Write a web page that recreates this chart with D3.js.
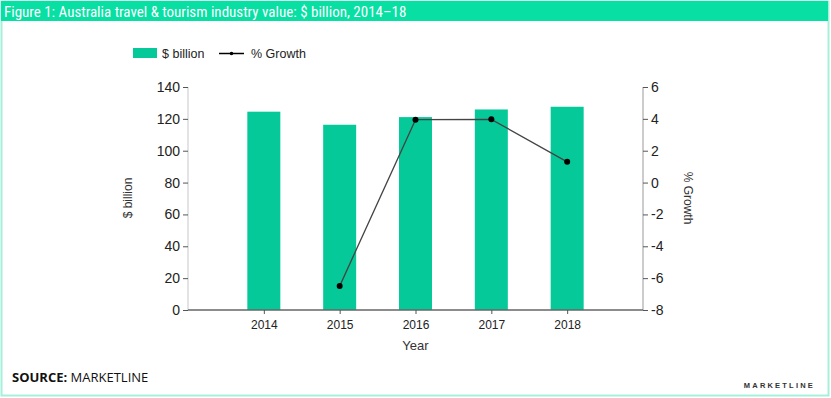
<!DOCTYPE html>
<html>
<head>
<meta charset="utf-8">
<script src="https://cdn.jsdelivr.net/npm/d3@7"></script>
<style>
  body { margin: 0; background: #fff; }
  svg text { font-family: Arial, "Liberation Sans", sans-serif; }
</style>
</head>
<body>
<div id="graph"></div>
<script>
// chart data
var years = [2014, 2015, 2016, 2017, 2018];
var billions = [124.5, 116.3, 121.1, 125.9, 127.6];
var growth = [null, -6.5, 3.95, 3.97, 1.3];
var leftTicks = [0, 20, 40, 60, 80, 100, 120, 140];
var rightTicks = [-8, -6, -4, -2, 0, 2, 4, 6];

var width = 831, height = 398;
var green = "#06c999";

var svg = d3.select("#graph").append("svg")
  .attr("width", width)
  .attr("height", height);

// frame + title bar
svg.append("rect")
  .attr("x", 1.5).attr("y", 1.5)
  .attr("width", width - 4).attr("height", height - 4)
  .attr("fill", "none").attr("stroke", "#a6f0d9").attr("stroke-width", 2);
svg.append("rect")
  .attr("x", 1).attr("y", 1).attr("width", width - 4).attr("height", 20)
  .attr("fill", "#07dfa3");
svg.append("text")
  .attr("x", 4).attr("y", 16.5)
  .attr("fill", "#fff")
  .style("font-family", "'Roboto Condensed', 'DejaVu Sans Condensed', Roboto, sans-serif")
  .style("font-size", "15px")
  .style("font-stretch", "condensed")
  .text("Figure 1: Australia travel & tourism industry value: $ billion, 2014\u201318");

// plot area (pixel bounds)
var plotL = 188, plotR = 643, plotT = 87, plotB = 310;
var x = d3.scaleLinear().domain([2013, 2019]).range([plotL, plotR]);
var y = d3.scaleLinear().domain([0, 140]).range([plotB, plotT]);
var y2 = d3.scaleLinear().domain([-8, 6]).range([plotB, plotT]);

// bars
svg.selectAll(".bar")
  .data(years)
  .enter().append("rect")
  .attr("class", "bar")
  .attr("x", function(d) { return x(d) - 16.5; })
  .attr("width", 33)
  .attr("y", function(d, i) { return y(billions[i]); })
  .attr("height", function(d, i) { return plotB - y(billions[i]); })
  .attr("fill", green);

// left axis
var gl = svg.append("g")
  .attr("transform", "translate(" + plotL + ",0)")
  .call(d3.axisLeft(y).tickValues(leftTicks).tickSize(5).tickPadding(3));
gl.select(".domain").attr("stroke", "#c8c8c8").attr("d", "M0," + plotT + "V" + plotB);
gl.selectAll(".tick line").attr("stroke", "#555");
gl.selectAll(".tick text").attr("fill", "#222").style("font-size", "14px");

// right axis (plain hyphen for negatives, like the original)
var gr = svg.append("g")
  .attr("transform", "translate(" + plotR + ",0)")
  .call(d3.axisRight(y2).tickValues(rightTicks).tickSize(5).tickPadding(3)
    .tickFormat(function(d) { return String(d); }));
gr.select(".domain").attr("stroke", "#999").attr("d", "M0," + plotT + "V" + plotB);
gr.selectAll(".tick line").attr("stroke", "#555");
gr.selectAll(".tick text").attr("fill", "#222").style("font-size", "14px");

// x axis
var gx = svg.append("g")
  .attr("transform", "translate(0," + plotB + ")")
  .call(d3.axisBottom(x).tickValues(years).tickFormat(d3.format("d")).tickSize(4).tickPadding(6));
gx.select(".domain").attr("stroke", "#666").attr("stroke-width", 1.5)
  .attr("d", "M" + plotL + ",0H" + plotR);
gx.selectAll(".tick line").attr("stroke", "#555");
gx.selectAll(".tick text").attr("fill", "#222").style("font-size", "12px");

// growth line
var pts = years.map(function(d, i) { return { year: d, value: growth[i] }; })
  .filter(function(d) { return d.value !== null; });
svg.append("path")
  .datum(pts)
  .attr("fill", "none")
  .attr("stroke", "#444")
  .attr("stroke-width", 1.3)
  .attr("d", d3.line()
    .x(function(d) { return x(d.year); })
    .y(function(d) { return y2(d.value); }));
svg.selectAll(".dot")
  .data(pts)
  .enter().append("circle")
  .attr("class", "dot")
  .attr("cx", function(d) { return x(d.year); })
  .attr("cy", function(d) { return y2(d.value); })
  .attr("r", 3)
  .attr("fill", "#000");

// axis titles
svg.append("text")
  .attr("transform", "translate(132,198) rotate(-90)")
  .attr("text-anchor", "middle")
  .attr("fill", "#333")
  .style("font-size", "12px")
  .text("$ billion");
svg.append("text")
  .attr("transform", "translate(684,198) rotate(90)")
  .attr("text-anchor", "middle")
  .attr("fill", "#333")
  .style("font-size", "12px")
  .text("% Growth");
svg.append("text")
  .attr("x", x(2016)).attr("y", 350)
  .attr("text-anchor", "middle")
  .attr("fill", "#333")
  .style("font-size", "13px")
  .text("Year");

// legend
svg.append("rect")
  .attr("x", 133).attr("y", 48).attr("width", 24).attr("height", 10)
  .attr("fill", green);
svg.append("text")
  .attr("x", 162).attr("y", 58)
  .attr("fill", "#222").style("font-size", "12.5px")
  .text("$ billion");
svg.append("line")
  .attr("x1", 219).attr("x2", 244).attr("y1", 53.5).attr("y2", 53.5)
  .attr("stroke", "#000").attr("stroke-width", 1.5);
svg.append("circle")
  .attr("cx", 231.5).attr("cy", 53.5).attr("r", 1.8).attr("fill", "#000");
svg.append("text")
  .attr("x", 251).attr("y", 58)
  .attr("fill", "#222").style("font-size", "12.5px")
  .text("% Growth");

// source + logo
var src = svg.append("text")
  .attr("x", 12).attr("y", 382)
  .style("font-family", "'Open Sans', sans-serif")
  .style("font-size", "13px")
  .attr("fill", "#111");
src.append("tspan").style("font-weight", "bold").text("SOURCE:");
src.append("tspan").text(" MARKETLINE");

svg.append("text")
  .attr("x", 815).attr("y", 388)
  .attr("text-anchor", "end")
  .attr("fill", "#333")
  .style("font-size", "7.5px")
  .style("font-weight", "bold")
  .style("letter-spacing", "2.2px")
  .text("MARKETLINE");
</script>
</body>
</html>
